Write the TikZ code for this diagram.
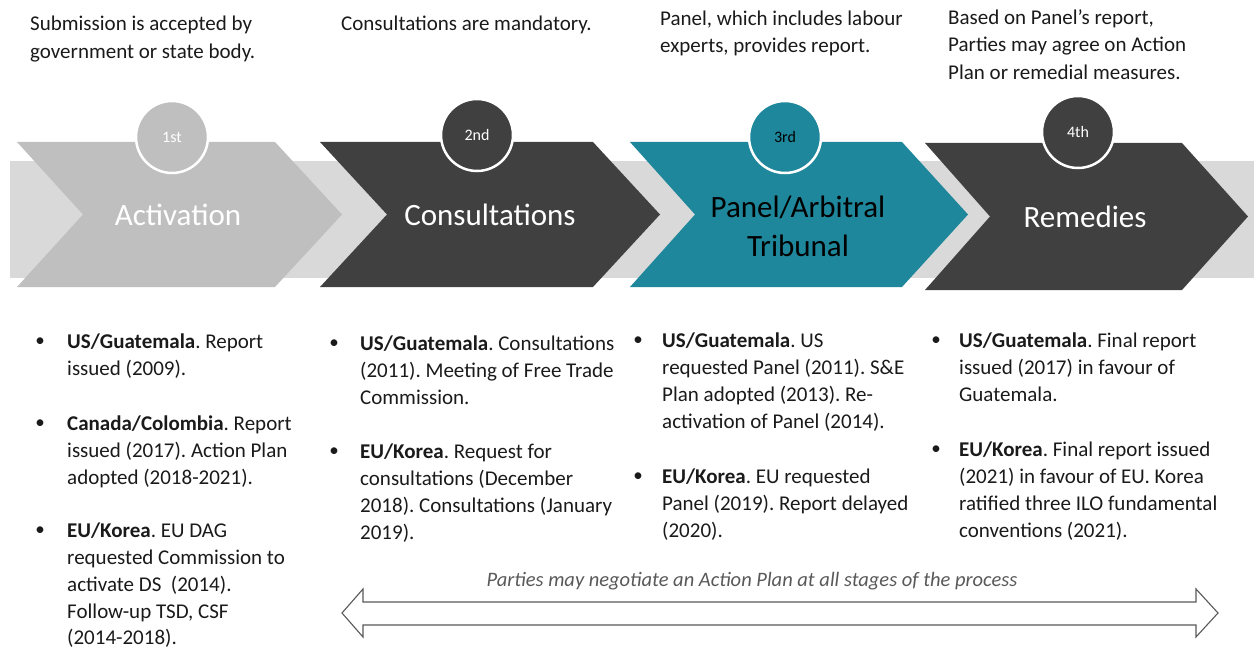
\documentclass[tikz,border=0pt]{standalone}
\usepackage{fontspec}
\setmainfont{Carlito}
\frenchspacing
\definecolor{band}{HTML}{D9D9D9}
\definecolor{lgray}{HTML}{BFBFBF}
\definecolor{dgray}{HTML}{404040}
\definecolor{teal1}{HTML}{1F879B}
\definecolor{txt}{HTML}{1A1A1A}
\definecolor{arrowc}{HTML}{595959}
\begin{document}
\begin{tikzpicture}[x=1pt,y=-1pt,
  topnote/.style={anchor=west,align=left,inner sep=0pt,text=txt,font=\fontsize{21}{27.5}\selectfont\frenchspacing},
  badge/.style={circle,minimum size=72pt,inner sep=0pt,draw=white,line width=2.5pt,font=\fontsize{16}{18}\selectfont},
  steplabel/.style={align=center,inner sep=0pt,font=\fontsize{31}{39}\selectfont},
  itemtext/.style={anchor=north west,align=left,inner sep=0pt,text=txt,font=\fontsize{21}{26.7}\selectfont\frenchspacing},
  bulletdot/.style={inner sep=0pt,text=txt,font=\fontsize{19}{26.7}\selectfont},
  twoarrow/.style={draw=arrowc,line width=1.1pt,fill=white,line join=miter}
]
\useasboundingbox (0,0) rectangle (1254,650);
% background band
\fill[band] (10,161) rectangle (1254,278);
% chevrons
\fill[lgray] (17,142) -- (275,142) -- (342,214.5) -- (275,287) -- (17,287) -- (83,214.5) -- cycle;
\fill[dgray] (320,142) -- (593,142) -- (660,214.5) -- (593,287) -- (320,287) -- (387,214.5) -- cycle;
\fill[teal1] (630,142) -- (902,142) -- (968,214.5) -- (902,287) -- (630,287) -- (695,214.5) -- cycle;
\fill[dgray] (925,143) -- (1182,143) -- (1248,216.5) -- (1182,290) -- (925,290) -- (990,216.5) -- cycle;
% badges
\node[badge,fill=lgray,text=white] (b1) at (172,137) {1st};
\node[badge,fill=dgray,text=white] (b2) at (477,135) {2nd};
\node[badge,fill=teal1,text=black] (b3) at (785,137) {3rd};
\node[badge,fill=dgray,text=white] (b4) at (1078,132) {4th};
% step labels
\node[steplabel,text=white] (s1) at (178,215) {Activation};
\node[steplabel,text=white] (s2) at (490,215) {Consultations};
\node[steplabel,text=black] (s3) at (798,226) {Panel/Arbitral\\Tribunal};
\node[steplabel,text=white] (s4) at (1085,217) {Remedies};
% top notes
\node[topnote] (n1) at (30,39) {Submission is accepted by\\government or state body.};
\node[topnote] (n2) at (341,25) {Consultations are mandatory.};
\node[topnote] (n3) at (660,33.5) {Panel, which includes labour\\experts, provides report.};
\node[topnote] (n4) at (948,44.5) {Based on Panel’s report,\\Parties may agree on Action\\Plan or remedial measures.};
% column 1
\node[bulletdot] (d11) at (40,342) {\textbullet};
\node[itemtext] (t11) at (67,334) {\textbf{US/Guatemala}. Report\\issued (2009).};
\node[bulletdot] (d12) at (40,424) {\textbullet};
\node[itemtext] (t12) at (67,416) {\textbf{Canada/Colombia}. Report\\issued (2017). Action Plan\\adopted (2018-2021).};
\node[bulletdot] (d13) at (40,531) {\textbullet};
\node[itemtext] (t13) at (67,523) {\textbf{EU/Korea}. EU DAG\\requested Commission to\\activate DS~~(2014).\\Follow-up TSD, CSF\\(2014-2018).};
% column 2
\node[bulletdot] (d21) at (334,344) {\textbullet};
\node[itemtext] (t21) at (360,336) {\textbf{US/Guatemala}. Consultations\\(2011). Meeting of Free Trade\\Commission.};
\node[bulletdot] (d22) at (334,452) {\textbullet};
\node[itemtext] (t22) at (360,444) {\textbf{EU/Korea}. Request for\\consultations (December\\2018). Consultations (January\\2019).};
% column 3
\node[bulletdot] (d31) at (638,341) {\textbullet};
\node[itemtext] (t31) at (662,333) {\textbf{US/Guatemala}. US\\requested Panel (2011). S\&E\\Plan adopted (2013). Re-\\activation of Panel (2014).};
\node[bulletdot] (d32) at (638,477) {\textbullet};
\node[itemtext] (t32) at (662,469) {\textbf{EU/Korea}. EU requested\\Panel (2019). Report delayed\\(2020).};
% column 4
\node[bulletdot] (d41) at (936,341) {\textbullet};
\node[itemtext] (t41) at (959,333) {\textbf{US/Guatemala}. Final report\\issued (2017) in favour of\\Guatemala.};
\node[bulletdot] (d42) at (936,450) {\textbullet};
\node[itemtext] (t42) at (959,442) {\textbf{EU/Korea}. Final report issued\\(2021) in favour of EU. Korea\\ratified three ILO fundamental\\conventions (2021).};
% double arrow
\draw[twoarrow] (342,613) -- (363,589) -- (363,602) -- (1196,602) -- (1196,589) -- (1218,613) -- (1196,637) -- (1196,625) -- (363,625) -- (363,637) -- cycle;
\node[inner sep=0pt,text=arrowc,font=\fontsize{20.5}{24}\selectfont\itshape] (note) at (752,581) {Parties may negotiate an Action Plan at all stages of the process};
\end{tikzpicture}
\end{document}
